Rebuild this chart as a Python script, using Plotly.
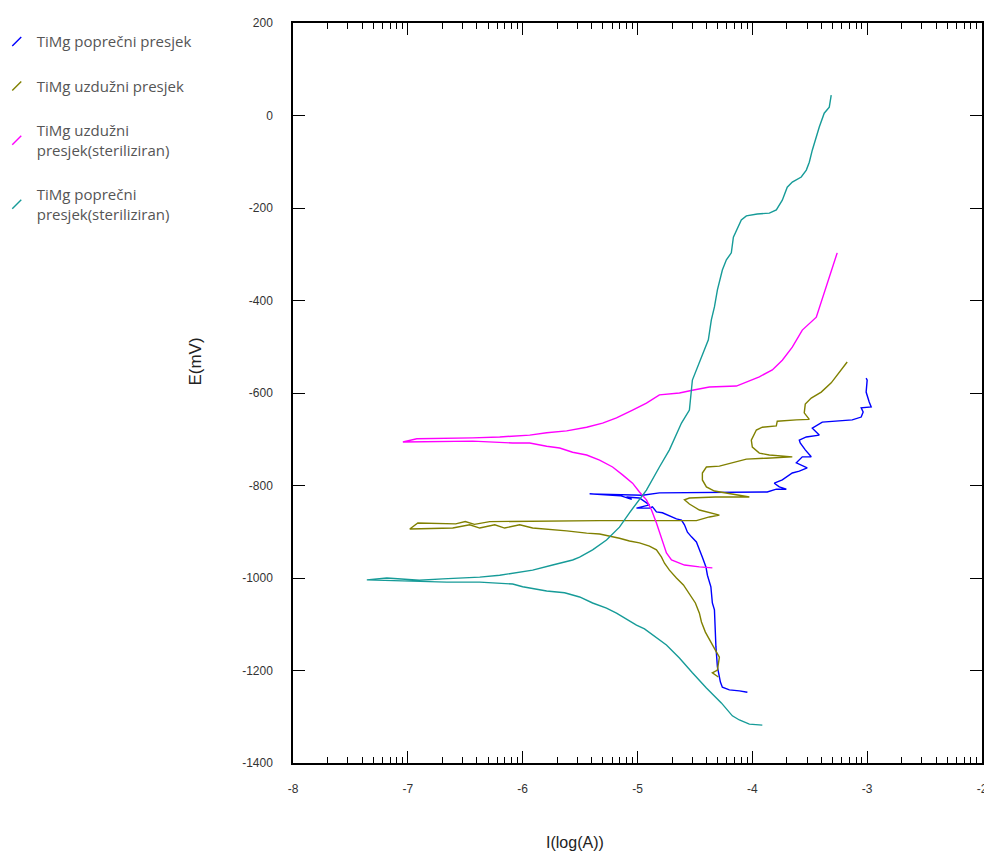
import plotly.graph_objects as go

# ── Polarization curves, log10(I/A) vs E (mV) ─────────────────────────────────

blue_logi = [-4.043, -4.113, -4.200, -4.261, -4.278, -4.304, -4.317, -4.330, -4.348, -4.361,
             -4.391, -4.404, -4.435, -4.461, -4.487, -4.530, -4.565, -4.591, -4.617, -4.661,
             -4.704, -4.783, -4.835, -4.870, -4.896, -5.009, -4.896, -4.983, -5.096, -5.050,
             -5.150, -5.217, -5.417, -4.957, -4.809, -3.870, -3.791, -3.704, -3.765, -3.809,
             -3.739, -3.652, -3.591, -3.522, -3.617, -3.565, -3.487, -3.539, -3.583, -3.591,
             -3.530, -3.417, -3.478, -3.391, -3.130, -3.052, -3.035, -3.052, -2.965, -2.983,
             -3.009, -3.000, -3.009]
blue_e = [-1247, -1244, -1242, -1236, -1225, -1192, -1149, -1069, -1054, -1019,
          -994, -976, -955, -939, -922, -911, -901, -885, -875, -872,
          -868, -859, -857, -846, -849, -849, -842, -827, -825, -830,
          -822, -821, -818, -821, -816, -814, -808, -808, -803, -795,
          -788, -773, -769, -762, -751, -738, -738, -723, -708, -702,
          -695, -691, -676, -663, -658, -652, -641, -632, -630, -619,
          -598, -572, -568]

olive_logi = [-4.296, -4.348, -4.304, -4.287, -4.322, -4.365, -4.409, -4.443, -4.461, -4.496,
              -4.548, -4.600, -4.661, -4.722, -4.765, -4.791, -4.835, -4.896, -4.983, -5.070,
              -5.157, -5.243, -5.330, -5.443, -5.617, -5.913, -6.026, -6.157, -6.243, -6.374,
              -6.461, -6.609, -6.983, -6.913, -6.583, -6.500, -6.420, -6.287, -5.330, -4.487,
              -4.374, -4.287, -4.374, -4.461, -4.548, -4.591, -4.548, -4.322, -4.026, -4.261,
              -4.330, -4.400, -4.435, -4.435, -4.400, -4.287, -4.174, -4.052, -3.878, -3.652,
              -3.852, -3.939, -4.000, -4.009, -3.965, -3.913, -3.791, -3.783, -3.617, -3.504,
              -3.548, -3.539, -3.487, -3.400, -3.313, -3.243, -3.174]
olive_e = [-1214, -1205, -1199, -1171, -1156, -1136, -1117, -1095, -1076, -1054,
           -1035, -1015, -1000, -983, -968, -955, -939, -931, -924, -920,
           -914, -909, -905, -903, -898, -892, -885, -892, -885, -892,
           -885, -892, -894, -881, -883, -878, -884, -878, -876, -876,
           -868, -864, -859, -853, -840, -831, -827, -825, -825, -816,
           -812, -803, -788, -773, -760, -758, -751, -743, -741, -738,
           -734, -730, -717, -702, -680, -674, -671, -661, -658, -657,
           -643, -624, -611, -598, -578, -555, -533]

pink_logi = [-4.348, -4.461, -4.591, -4.704, -4.748, -4.765, -4.791, -4.835, -4.878, -4.922,
             -4.983, -5.043, -5.130, -5.217, -5.330, -5.443, -5.565, -5.678, -5.791, -5.939,
             -6.087, -6.261, -6.435, -7.043, -6.922, -6.435, -6.200, -5.939, -5.791, -5.617,
             -5.443, -5.304, -5.183, -5.043, -4.922, -4.809, -4.635, -4.522, -4.374, -4.139,
             -3.939, -3.826, -3.739, -3.652, -3.565, -3.443, -3.374, -3.313, -3.261]
pink_e = [-978, -976, -972, -961, -946, -933, -911, -881, -853, -831,
          -814, -795, -777, -760, -745, -734, -728, -719, -715, -708,
          -708, -706, -704, -706, -699, -697, -695, -691, -686, -682,
          -674, -665, -654, -637, -622, -604, -600, -594, -587, -585,
          -565, -550, -529, -501, -464, -436, -384, -341, -297]

teal_logi = [-3.913, -4.026, -4.113, -4.174, -4.270, -4.400, -4.522, -4.635, -4.748, -4.870,
             -4.939, -5.009, -5.096, -5.183, -5.270, -5.391, -5.504, -5.635, -5.791, -5.878,
             -6.000, -6.087, -6.261, -6.374, -6.661, -7.357, -7.183, -6.900, -6.696, -6.374,
             -6.200, -6.052, -5.913, -5.739, -5.565, -5.504, -5.391, -5.270, -5.157, -5.070,
             -4.983, -4.922, -4.809, -4.722, -4.617, -4.548, -4.522, -4.383, -4.357, -4.330,
             -4.304, -4.261, -4.226, -4.183, -4.165, -4.139, -4.096, -4.052, -3.957, -3.852,
             -3.791, -3.739, -3.696, -3.652, -3.574, -3.530, -3.504, -3.478, -3.443, -3.417,
             -3.374, -3.330, -3.313]
teal_e = [-1318, -1316, -1307, -1298, -1270, -1238, -1205, -1173, -1145, -1123,
          -1110, -1102, -1089, -1076, -1065, -1054, -1041, -1032, -1028, -1024,
          -1019, -1013, -1011, -1009, -1009, -1004, -1000, -1005, -1002, -998,
          -994, -989, -983, -972, -961, -955, -939, -918, -890, -859,
          -831, -810, -760, -723, -665, -637, -572, -485, -442, -414,
          -377, -334, -312, -297, -263, -248, -226, -217, -213, -211,
          -204, -183, -155, -144, -133, -118, -101, -75, -46, -25,
          5, 18, 44]

SERIES = [
    ("TiMg poprečni presjek", blue_logi, blue_e, "#0000ff"),
    ("TiMg uzdužni presjek", olive_logi, olive_e, "#808000"),
    ("TiMg uzdužni<br>presjek(steriliziran)", pink_logi, pink_e, "#ff00ff"),
    ("TiMg poprečni<br>presjek(steriliziran)", teal_logi, teal_e, "#169b98"),
]

x_ticks = [-8, -7, -6, -5, -4, -3, -2]
y_ticks = [-1400, -1200, -1000, -800, -600, -400, -200, 0, 200]
# log-style minor ticks inside each decade
x_minor = [d + m for d in x_ticks[:-1] for m in (0.301, 0.477, 0.602, 0.699, 0.778, 0.845, 0.903, 0.954)]

fig = go.Figure()

for name, xs, ys, color in SERIES:
    fig.add_trace(go.Scatter(
        x=xs, y=ys, mode="lines", name=name,
        line=dict(color=color, width=1.4),
        showlegend=False,
    ))
    # legend-only entry with the slanted swatch
    fig.add_trace(go.Scatter(
        x=[None], y=[None], mode="markers", name=name,
        marker=dict(symbol="line-ne", size=9, color=color,
                    line=dict(color=color, width=1.4)),
        legendgroup=name,
    ))

_axis_font = dict(family="Liberation Sans, Arial, sans-serif", size=12, color="#333333")

fig.update_layout(
    width=984, height=853,
    paper_bgcolor="white",
    plot_bgcolor="white",
    margin=dict(l=293, r=2, t=23, b=90, autoexpand=False),
    xaxis=dict(
        range=[-8, -2], tickmode="array", tickvals=x_ticks,
        ticktext=[str(v) for v in x_ticks],
        ticks="inside", ticklen=12, tickwidth=1.2, tickcolor="black",
        minor=dict(tickmode="array", tickvals=x_minor, ticks="inside",
                   ticklen=6, tickwidth=1.2, tickcolor="black"),
        showline=True, linecolor="black", linewidth=1.5, mirror="ticks",
        showgrid=False, zeroline=False, ticklabeloverflow="allow",
        tickfont=_axis_font, ticklabelstandoff=14,
    ),
    yaxis=dict(
        range=[-1400, 200], tickmode="array", tickvals=y_ticks,
        ticktext=[str(v) for v in y_ticks],
        ticks="inside", ticklen=12, tickwidth=1.2, tickcolor="black",
        showline=True, linecolor="black", linewidth=1.5, mirror="ticks",
        showgrid=False, zeroline=False,
        tickfont=_axis_font, ticklabelstandoff=16,
    ),
    legend=dict(
        x=-0.43, y=0.997, xanchor="left", yanchor="top",
        font=dict(family="Open Sans, Lato, sans-serif", size=15, color="#555555"),
        tracegroupgap=22, bgcolor="rgba(0,0,0,0)",
    ),
    annotations=[
        dict(text="E(mV)", x=-0.158, y=0.542, xref="paper", yref="paper",
             textangle=-90, showarrow=False,
             font=dict(family="Liberation Sans, Arial, sans-serif", size=17, color="#222222")),
        dict(text="I(log(A))", x=0.409, y=-0.122, xref="paper", yref="paper",
             showarrow=False,
             font=dict(family="Liberation Sans, Arial, sans-serif", size=16, color="#222222")),
    ],
)

# drop the default page margin so the 984x853 figure fills the window exactly
fig.write_html(
    "out.html",
    config={"displayModeBar": False},
    post_script="document.body.style.margin='0';document.body.style.overflow='hidden';",
)
